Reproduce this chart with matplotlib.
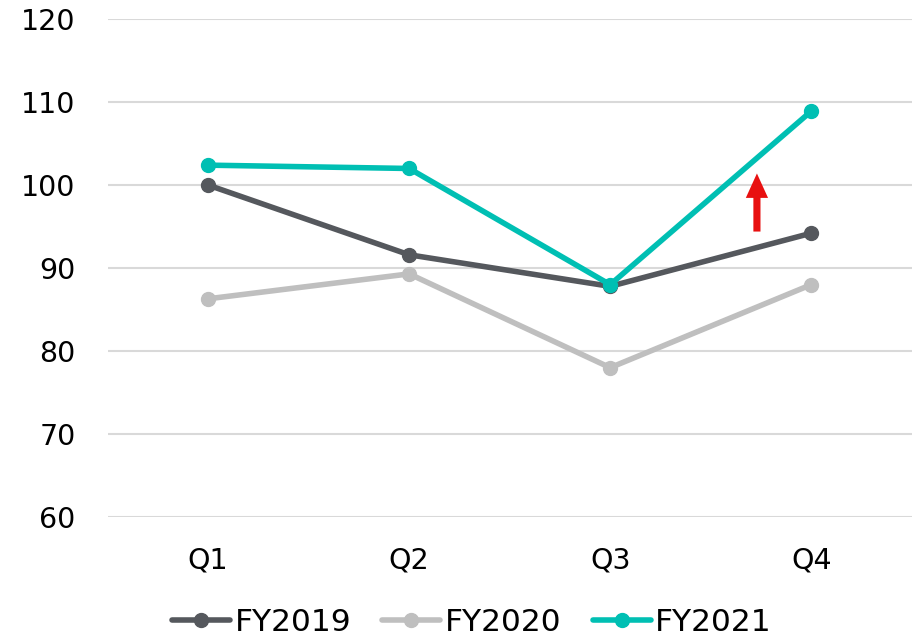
import matplotlib.pyplot as plt

# quarterly index values
quarters = ['Q1', 'Q2', 'Q3', 'Q4']
fy2019 = [100.0, 91.6, 87.8, 94.2]
fy2020 = [86.3, 89.3, 78.0, 88.0]
fy2021 = [102.4, 102.0, 88.0, 108.9]
yticks = [60, 70, 80, 90, 100, 110, 120]

series = [
    ('FY2019', fy2019, '#55585d'),
    ('FY2020', fy2020, '#bfbfbf'),
    ('FY2021', fy2021, '#00bfb3'),
]

fig = plt.figure(figsize=(9.2, 6.36), dpi=100)
ax = fig.add_axes([0.117, 0.187, 0.874, 0.783])

x = range(len(quarters))
for name, vals, col in series:
    ax.plot(x, vals, '-o', color=col, lw=4, ms=10, label=name,
            solid_capstyle='round', zorder=3)

# red "up" arrow near Q4
ax.annotate('', xy=(2.73, 101.4), xytext=(2.73, 94.4),
            arrowprops=dict(arrowstyle='simple,head_length=1.1,head_width=1.0,tail_width=0.32',
                            mutation_scale=16, color='#e81010', lw=0,
                            shrinkA=0, shrinkB=0), zorder=4)

ax.set_xlim(-0.5, 3.5)
ax.set_ylim(60, 120)
ax.set_yticks(yticks)
ax.set_xticks(list(x))
ax.set_xticklabels(quarters)
ax.grid(axis='y', color='#d9d9d9', lw=1.5)
ax.set_axisbelow(True)
for s in ax.spines.values():
    s.set_visible(False)
ax.tick_params(axis='both', length=0, labelsize=20.5, colors='black')
ax.tick_params(axis='x', pad=21)
ax.tick_params(axis='y', pad=23)

fig.legend(loc='center', bbox_to_anchor=(0.513, 0.021), ncol=3, frameon=False,
           fontsize=22.5, handlelength=1.85, handletextpad=0.15,
           columnspacing=1.0, borderpad=0)

fig.savefig('out.png', dpi=100)
